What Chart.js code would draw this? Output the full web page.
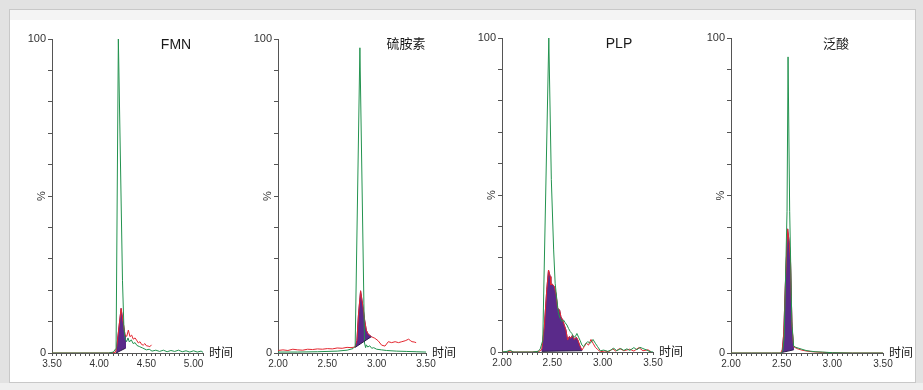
<!DOCTYPE html>
<html>
<head>
<meta charset="utf-8">
<script src="https://cdn.jsdelivr.net/npm/chart.js@4"></script>
<style>
  body { margin: 0; width: 923px; height: 390px; background: #e2e2e2; position: relative; overflow: hidden; }
  #card { position: absolute; left: 9px; top: 9px; width: 905px; height: 372px; border: 1px solid #c8c8c8; background: #fff; }
  #band { position: absolute; left: 0; top: 0; right: 0; height: 10px; background: #f4f4f4; }
  #foot { position: absolute; left: 0; top: 383px; width: 923px; height: 7px; background: #efefef; }
  canvas { position: absolute; top: 0; }
</style>
</head>
<body>
<div id="card"><div id="band"></div></div>
<div id="foot"></div>
<script>
// chart texts
const titles = ['FMN', '硫胺素', 'PLP', '泛酸'];
const timeLabel = '时间';
const unitLabel = '%';
const yLabelled = [0, 100];
const xRanges = [[3.5, 5.1], [2.0, 3.5], [2.0, 3.5], [2.0, 3.5]];

// [time, %] - green = standard, red = sample, base = integration baseline
const fmnStd = [[3.50,0],[3.70,0],[3.90,0],[4.10,0],[4.15,0.3],[4.179,1.5],[4.203,100],[4.247,23],[4.262,8],[4.274,4.6],[4.29,3.6],[4.305,4.8],[4.32,3.5],[4.34,4.2],[4.36,3.0],[4.38,3.3],[4.40,2.4],[4.43,2.0],[4.46,1.6],[4.50,1.0],[4.53,1.2],[4.56,0.6],[4.60,0.9],[4.64,0.5],[4.68,0.9],[4.72,0.4],[4.76,0.8],[4.80,0.5],[4.84,0.9],[4.88,0.4],[4.92,0.7],[4.96,0.3],[5.00,0.7],[5.04,0.3],[5.08,0.6],[5.10,0.2]];
const fmnSample = [[3.50,0],[3.80,0],[4.10,0],[4.172,0.2],[4.186,2.0],[4.232,14.2],[4.256,9.4],[4.274,5.7],[4.292,5.3],[4.309,7.3],[4.326,5.2],[4.344,5.7],[4.361,4.4],[4.38,4.8],[4.396,4.1],[4.415,3.2],[4.432,3.6],[4.45,2.7],[4.467,2.5],[4.484,3.0],[4.50,2.3],[4.519,2.2],[4.537,2.0],[4.554,2.6]];
const fmnBase = [[4.179,0],[4.277,1.5]];

const thiStd = [[2.00,0.3],[2.20,0.3],[2.40,0.4],[2.60,0.6],[2.70,0.9],[2.76,1.4],[2.782,2.1],[2.83,97.2],[2.877,3.2],[2.888,1.7],[2.895,2.6],[2.91,1.9],[2.93,2.3],[2.95,1.5],[2.97,1.7],[3.00,1.2],[3.05,1.0],[3.10,0.8],[3.20,0.6],[3.30,0.5],[3.40,0.4],[3.50,0.3]];
const thiSample = [[2.00,0.8],[2.05,1.0],[2.10,0.8],[2.15,1.2],[2.20,1.0],[2.25,0.9],[2.30,1.2],[2.35,1.1],[2.40,1.3],[2.45,1.2],[2.50,1.4],[2.55,1.3],[2.60,1.6],[2.65,1.5],[2.70,1.8],[2.74,1.7],[2.78,1.9],[2.80,4],[2.815,12],[2.837,19.8],[2.861,14.8],[2.878,10.5],[2.895,7.3],[2.912,6.1],[2.946,5.2],[2.981,4.7],[3.015,3.9],[3.05,2.5],[3.084,2.2],[3.118,3.6],[3.152,3.3],[3.187,3.6],[3.221,3.3],[3.255,3.6],[3.289,3.9],[3.324,4.4],[3.34,4.0],[3.358,3.6],[3.38,3.5],[3.40,3.3]];
const thiBase = [[2.782,1.8],[2.946,5.2]];

const plpStd = [[2.00,0],[2.05,0.2],[2.08,0.6],[2.11,0],[2.20,0],[2.30,0],[2.36,0.2],[2.38,1.0],[2.405,3.7],[2.465,100],[2.49,55],[2.513,32.5],[2.528,21.9],[2.545,16.6],[2.561,12.3],[2.578,10.7],[2.595,9.7],[2.611,10.2],[2.628,9.3],[2.645,8.6],[2.661,7.5],[2.678,6.5],[2.694,5.9],[2.711,4.7],[2.728,4.9],[2.744,5.9],[2.761,4.7],[2.777,3.6],[2.794,2.2],[2.81,1.7],[2.827,2.5],[2.851,3.3],[2.877,2.8],[2.904,4.0],[2.927,2.8],[2.95,1.7],[2.977,0.4],[3.01,0.6],[3.05,0.2],[3.08,0.6],[3.11,1.2],[3.14,0.4],[3.18,1.1],[3.21,0.5],[3.24,1.0],[3.27,0.5],[3.31,1.4],[3.34,0.7],[3.37,1.5],[3.40,1.1],[3.44,0.6],[3.47,0.1],[3.50,0]];
const plpSample = [[2.00,0],[2.05,0],[2.08,0.3],[2.12,0],[2.20,0],[2.30,0],[2.38,0.3],[2.396,1.0],[2.42,8],[2.445,20],[2.462,26.1],[2.479,24],[2.485,21.4],[2.50,21.6],[2.52,20.8],[2.538,18.2],[2.552,13.9],[2.572,13.4],[2.585,11.3],[2.602,10.2],[2.618,8.6],[2.635,7.0],[2.652,3.8],[2.668,4.9],[2.685,4.4],[2.701,5.4],[2.718,4.0],[2.738,4.7],[2.754,3.8],[2.771,2.2],[2.794,0.6],[2.817,1.7],[2.837,2.8],[2.86,2.2],[2.884,4.0],[2.904,2.8],[2.927,1.5],[2.95,0.8],[2.977,0.1],[3.02,0.3],[3.06,0.1],[3.10,1.0],[3.13,0.3],[3.17,1.1],[3.21,0.4],[3.27,0.9],[3.31,0.3],[3.36,1.4],[3.40,0.4],[3.45,0.7],[3.48,0.1]];
const plpBase = [[2.396,0.2],[2.794,0.4]];

const panStd = [[2.00,0],[2.20,0],[2.40,0],[2.49,0],[2.51,0.4],[2.525,5],[2.553,45],[2.563,94],[2.579,45],[2.60,10],[2.618,2.2],[2.64,1.8],[2.67,1.5],[2.70,1.2],[2.74,0.8],[2.78,0.6],[2.83,0.4],[2.90,0.3],[3.00,0.1],[3.20,0],[3.50,0]];
const panSample = [[2.00,0],[2.20,0],[2.40,0],[2.49,0],[2.505,1.0],[2.52,6],[2.54,25],[2.559,39.4],[2.575,35],[2.587,29.6],[2.595,18],[2.602,8.4],[2.618,2.0],[2.65,1.4],[2.70,0.9],[2.75,0.6],[2.80,0.4],[2.90,0.2],[3.00,0.1],[3.20,0],[3.50,0]];
const panBase = [[2.505,0.2],[2.618,1.0]];

const standards = [fmnStd, thiStd, plpStd, panStd];
const samples = [fmnSample, thiSample, plpSample, panSample];
const baselines = [fmnBase, thiBase, plpBase, panBase];

// where each plot sits on the page (axis box + title centre)
const boxes = [
  {l: 52, r: 203, t: 39, b: 353, tx: 176, ty: 45, cjk: false},
  {l: 278, r: 426, t: 39, b: 353, tx: 406, ty: 43, cjk: true},
  {l: 502, r: 653, t: 38, b: 352, tx: 619, ty: 44, cjk: false},
  {l: 731, r: 883, t: 38, b: 353, tx: 836, ty: 43, cjk: true}
];

const green = '#23934f';
const red = '#e3262f';
const purple = '#5a2a8a';
const axisCol = '#555';

const xy = arr => arr.map(p => ({x: p[0], y: p[1]}));

// title, 时间 and % labels
const panelText = {
  id: 'panelText',
  afterDraw(chart, args, opts) {
    const {ctx, chartArea, scales} = chart;
    ctx.save();
    ctx.fillStyle = '#1a1a1a';
    ctx.textBaseline = 'middle';
    ctx.textAlign = 'center';
    ctx.font = opts.cjk ? '13px "Noto Sans CJK SC"' : '14px "Liberation Sans", Arial';
    ctx.fillText(opts.title, opts.x, opts.y);
    ctx.textAlign = 'left';
    ctx.font = '12px "Noto Sans CJK SC"';
    ctx.fillText(timeLabel, chartArea.right + 6, chartArea.bottom - 1);
    ctx.fillStyle = '#333';
    ctx.translate(chartArea.left - 10, scales.y.getPixelForValue(50));
    ctx.rotate(-Math.PI / 2);
    ctx.textAlign = 'center';
    ctx.font = '11px "Liberation Sans", Arial';
    ctx.fillText(unitLabel, 0, 0);
    ctx.restore();
  }
};

for (let i = 0; i < 4; i++) {
  const box = boxes[i];
  const left = box.l - 50;
  const w = box.r - box.l + 90;
  const cv = document.createElement('canvas');
  cv.width = w;
  cv.height = 390;
  cv.style.left = left + 'px';
  cv.style.width = w + 'px';
  cv.style.height = '390px';
  document.body.appendChild(cv);

  const base = baselines[i];
  const area = [base[0], ...samples[i].filter(p => p[0] > base[0][0] && p[0] < base[1][0]), base[1]];

  new Chart(cv, {
    type: 'line',
    data: {
      datasets: [
        {data: xy(standards[i]), borderColor: green, borderWidth: 1},
        {data: xy(samples[i]), borderColor: red, borderWidth: 1},
        {data: xy(area), borderColor: purple, borderWidth: 1, backgroundColor: purple, fill: 3},
        {data: xy(base), borderColor: '#2b1b48', borderWidth: 1, order: -1}
      ]
    },
    options: {
      responsive: false,
      animation: false,
      layout: {padding: {left: 0, right: 40, top: box.t, bottom: 390 - box.b - 20}},
      elements: {point: {radius: 0}, line: {tension: 0, fill: false}},
      plugins: {
        legend: {display: false},
        tooltip: {enabled: false},
        panelText: {title: titles[i], x: box.tx - left, y: box.ty, cjk: box.cjk}
      },
      scales: {
        x: {
          type: 'linear',
          min: xRanges[i][0],
          max: xRanges[i][1],
          afterFit: s => { s.height = 20; },
          border: {color: axisCol},
          grid: {drawOnChartArea: false, tickLength: 3, color: axisCol},
          ticks: {
            stepSize: 0.05, autoSkip: false, maxRotation: 0, minRotation: 0, padding: 2,
            color: '#333', font: {size: 10, family: '"Liberation Sans", Arial'},
            callback: v => Math.abs(v * 2 - Math.round(v * 2)) < 1e-6 ? v.toFixed(2) : ''
          }
        },
        y: {
          min: 0,
          max: 100,
          afterFit: s => { s.width = 50; },
          border: {color: axisCol},
          grid: {drawOnChartArea: false, tickLength: 4, color: axisCol},
          ticks: {
            stepSize: 10, autoSkip: false, padding: 2,
            color: '#333', font: {size: 11, family: '"Liberation Sans", Arial'},
            callback: v => yLabelled.includes(v) ? String(v) : ''
          }
        }
      }
    },
    plugins: [panelText]
  });
}
</script>
</body>
</html>
